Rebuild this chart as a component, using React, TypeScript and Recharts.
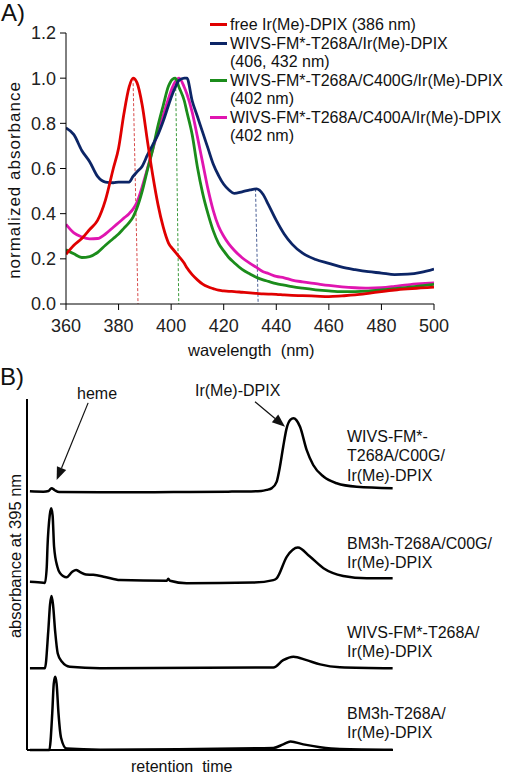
import { LineChart, Line, XAxis, YAxis, ReferenceLine } from "recharts";

// ---- panel A: normalized UV-vis spectra ----
const WAVELENGTHS = [
  360, 363, 366, 369, 372, 375, 378, 380, 382, 384, 385.5, 387, 389, 391, 393,
  395, 397, 399, 400.5, 401.6, 403, 405, 406, 408, 410, 412, 414, 416, 418, 420,
  422, 424, 427, 430, 432.5, 435, 437, 440, 443, 446, 450, 455, 460, 465, 470,
  475, 480, 485, 490, 495, 500,
];
const FREE_IR = [
  0.22, 0.26, 0.29, 0.33, 0.37, 0.46, 0.6, 0.69, 0.84, 0.96, 1.0, 0.98, 0.88,
  0.72, 0.57, 0.44, 0.34, 0.27, 0.245, 0.23, 0.21, 0.18, 0.16, 0.13, 0.107,
  0.088, 0.076, 0.068, 0.061, 0.058, 0.056, 0.055, 0.052, 0.049, 0.047, 0.045,
  0.044, 0.043, 0.04, 0.038, 0.037, 0.035, 0.033, 0.036, 0.04, 0.047, 0.055,
  0.062, 0.067, 0.071, 0.075,
];
const WIVS_T268A = [
  0.78, 0.75, 0.68, 0.63, 0.565, 0.54, 0.537, 0.54, 0.54, 0.54, 0.565, 0.585,
  0.61, 0.66, 0.705, 0.75, 0.81, 0.88, 0.93, 0.96, 0.99, 1.0, 1.0, 0.9, 0.83,
  0.76, 0.69, 0.62, 0.57, 0.53, 0.505, 0.49, 0.497, 0.505, 0.51, 0.485, 0.44,
  0.37, 0.31, 0.265, 0.225, 0.197, 0.18, 0.163, 0.152, 0.143, 0.137, 0.13,
  0.132, 0.14, 0.155,
];
const WIVS_C400G = [
  0.24, 0.222, 0.206, 0.21, 0.228, 0.26, 0.29, 0.31, 0.335, 0.36, 0.385, 0.425,
  0.5, 0.595, 0.685, 0.79, 0.88, 0.965, 0.995, 1.0, 0.96, 0.9, 0.85, 0.75,
  0.606, 0.49, 0.4, 0.325, 0.27, 0.235, 0.205, 0.183, 0.153, 0.133, 0.118,
  0.107, 0.1, 0.09, 0.084, 0.077, 0.07, 0.063, 0.058, 0.055, 0.055, 0.057,
  0.062, 0.068, 0.074, 0.08, 0.087,
];
const WIVS_C400A = [
  0.353, 0.315, 0.297, 0.288, 0.29, 0.31, 0.34, 0.36, 0.38, 0.4, 0.42, 0.45,
  0.52, 0.6, 0.685, 0.765, 0.835, 0.91, 0.96, 0.985, 1.0, 0.96, 0.93, 0.85,
  0.74, 0.625, 0.51, 0.415, 0.345, 0.3, 0.265, 0.238, 0.205, 0.18, 0.162,
  0.143, 0.135, 0.122, 0.116, 0.106, 0.098, 0.09, 0.082, 0.076, 0.072, 0.07,
  0.072, 0.078, 0.085, 0.09, 0.094,
];
const WL_TICKS = [360, 380, 400, 420, 440, 460, 480, 500];
const ABS_TICKS = [0, 0.2, 0.4, 0.6, 0.8, 1.0, 1.2];

const RED = "#e00000";
const NAVY = "#0c2566";
const GREEN = "#1b8c1b";
const MAGENTA = "#e015b0";

// peak drop lines (top -> bottom), in nm / normalized units
const PEAK_LINES = [
  { top: [385.5, 1.0], bottom: [387.4, 0], color: "#d84a4a" },
  { top: [401.7, 1.0], bottom: [402.9, 0], color: "#3a9a3a" },
  { top: [432.1, 0.51], bottom: [433.1, 0], color: "#4a5f96" },
];

const LEGEND = [
  { color: RED, lines: ["free Ir(Me)-DPIX (386 nm)"] },
  { color: NAVY, lines: ["WIVS-FM*-T268A/Ir(Me)-DPIX", "(406, 432 nm)"] },
  { color: GREEN, lines: ["WIVS-FM*-T268A/C400G/Ir(Me)-DPIX", "(402 nm)"] },
  { color: MAGENTA, lines: ["WIVS-FM*-T268A/C400A/Ir(Me)-DPIX", "(402 nm)"] },
];

// ---- panel B: HPLC traces (retention time a.u., stacked absorbance a.u.) ----
const TRACE_WIVS_C400G: [number, number][] = [
  [0.8, 73.7], [4.5, 73.6], [5.9, 73.8], [6.7, 74.6], [7.6, 74.0], [8.8, 73.5],
  [20, 73.4], [40, 73.5], [55, 73.6], [64, 73.8], [65.5, 74.1], [66.9, 74.6],
  [68.2, 76.4], [69.1, 80.7], [70.0, 86.4], [70.9, 91.5], [72.0, 94.1],
  [72.8, 94.5], [73.6, 94.0], [74.6, 92.1], [76.4, 85.5], [78.2, 81.2],
  [81.0, 77.9], [84.6, 76.0], [90.1, 75.0], [99.9, 74.6],
];
const TRACE_BM3H_C400G: [number, number][] = [
  [0.8, 47.9], [3, 47.8], [4.9, 47.6], [5.4, 52.2], [5.6, 57.9], [6.2, 66.8],
  [6.6, 68.9], [7.0, 66.8], [7.4, 57.9], [8.3, 52.2], [9.0, 50.4], [10.8, 49.2],
  [12.3, 50.7], [13.4, 51.3], [14.5, 50.7], [16.1, 50.0], [18.1, 49.9],
  [21.3, 49.3], [25.4, 48.4], [38.2, 48.2], [38.6, 48.8], [39.1, 48.2],
  [43.6, 47.5], [61.7, 47.7], [67.3, 48.4], [68.2, 48.9], [71.0, 55.1],
  [74.0, 57.7], [77.3, 55.1], [81.0, 51.8], [86.4, 49.6], [92.8, 48.9],
  [99.9, 48.9],
];
const TRACE_WIVS_T268A: [number, number][] = [
  [0.8, 23.3], [4.9, 23.3], [5.8, 33.7], [6.3, 41.5], [6.7, 43.9], [7.1, 41.5],
  [7.7, 33.7], [8.4, 27.5], [9.5, 25.2], [11.7, 23.7], [20, 23.3], [67.3, 23.5],
  [70.0, 25.6], [72.8, 26.6], [76.4, 25.6], [80.1, 24.4], [85.5, 23.6],
  [99.9, 23.3],
];
const TRACE_BM3H_T268A: [number, number][] = [
  [0.8, 0], [6.1, 0], [6.9, 10.5], [7.3, 18.8], [7.7, 20.9], [8.1, 18.8],
  [8.6, 10.5], [9.3, 3.5], [10.8, 0.4], [20, 0.1], [67.3, 0.6], [70.0, 1.6],
  [72.0, 2.4], [75.5, 1.6], [80.1, 0.8], [85.5, 0.3], [99.9, 0.1],
];

const TRACES = [
  { data: TRACE_WIVS_C400G, label: ["WIVS-FM*-", "T268A/C00G/", "Ir(Me)-DPIX"], labelY: 436 },
  { data: TRACE_BM3H_C400G, label: ["BM3h-T268A/C00G/", "Ir(Me)-DPIX"], labelY: 543 },
  { data: TRACE_WIVS_T268A, label: ["WIVS-FM*-T268A/", "Ir(Me)-DPIX"], labelY: 632 },
  { data: TRACE_BM3H_T268A, label: ["BM3h-T268A/", "Ir(Me)-DPIX"], labelY: 713 },
];

// annotation arrows [from, to] in trace units
const ARROWS = [
  { from: [16.7, 98.9], to: [8.1, 76.9] },
  { from: [62.3, 99.2], to: [70.5, 92.1] },
];

const FONT = "'Liberation Sans', Arial, sans-serif";

const spectra = WAVELENGTHS.map((wl, i) => ({
  wl,
  free: FREE_IR[i],
  wt: WIVS_T268A[i],
  c400g: WIVS_C400G[i],
  c400a: WIVS_C400A[i],
}));

function Txt({ x, y, size = 16, children, lh = 19 }: any) {
  return (
    <div
      style={{
        position: "absolute",
        left: x,
        top: y - lh / 2,
        fontSize: size,
        lineHeight: `${lh}px`,
        whiteSpace: "nowrap",
        color: "#111",
        fontFamily: FONT,
      }}
    >
      {children}
    </div>
  );
}

function VTitle({ cx, cy, size, spacing = 0, children }: any) {
  return (
    <div
      style={{
        position: "absolute",
        left: cx,
        top: cy,
        transform: "translate(-50%, -50%) rotate(-90deg)",
        fontSize: size,
        letterSpacing: spacing,
        whiteSpace: "nowrap",
        color: "#111",
        fontFamily: FONT,
        lineHeight: 1,
      }}
    >
      {children}
    </div>
  );
}

function Arrow(p: any) {
  const { x1, y1, x2, y2 } = p;
  const a = Math.atan2(y2 - y1, x2 - x1);
  const len = 13;
  const half = 5;
  const bx = x2 - len * Math.cos(a);
  const by = y2 - len * Math.sin(a);
  const pts = [
    [x2, y2],
    [bx + half * Math.sin(a), by - half * Math.cos(a)],
    [bx - half * Math.sin(a), by + half * Math.cos(a)],
  ]
    .map((q) => q.join(","))
    .join(" ");
  return (
    <g>
      <line x1={x1} y1={y1} x2={bx} y2={by} stroke="#111" strokeWidth={1.2} />
      <polygon points={pts} fill="#111" />
    </g>
  );
}

const tickStyle = { fontSize: 18, fill: "#222", fontFamily: FONT };

export default function App() {
  return (
    <div
      style={{
        position: "absolute",
        left: 0,
        top: 0,
        width: 514,
        height: 774,
        background: "#fff",
        overflow: "hidden",
      }}
    >
      {/* panel A */}
      <div style={{ position: "absolute", left: 0, top: 0 }}>
        <LineChart
          width={514}
          height={360}
          data={spectra}
          margin={{ top: 33, right: 80, bottom: 16, left: 6 }}
        >
          <XAxis
            dataKey="wl"
            type="number"
            domain={[360, 500]}
            ticks={WL_TICKS}
            allowDataOverflow
            height={40}
            stroke="#000"
            tickSize={6}
            tickMargin={9}
            tick={tickStyle}
          />
          <YAxis
            type="number"
            domain={[0, 1.2]}
            ticks={ABS_TICKS}
            allowDataOverflow
            width={60}
            stroke="#000"
            tickSize={6}
            tickMargin={4}
            tick={tickStyle}
            tickFormatter={(v: number) => v.toFixed(1)}
          />
          {PEAK_LINES.map((p, i) => (
            <ReferenceLine
              key={i}
              segment={[
                { x: p.top[0], y: p.top[1] },
                { x: p.bottom[0], y: p.bottom[1] },
              ]}
              stroke={p.color}
              strokeWidth={1}
              strokeDasharray="3 2"
            />
          ))}
          <Line dataKey="c400a" type="monotone" stroke={MAGENTA} strokeWidth={2.8} dot={false} isAnimationActive={false} />
          <Line dataKey="c400g" type="monotone" stroke={GREEN} strokeWidth={2.8} dot={false} isAnimationActive={false} />
          <Line dataKey="wt" type="monotone" stroke={NAVY} strokeWidth={2.8} dot={false} isAnimationActive={false} />
          <Line dataKey="free" type="monotone" stroke={RED} strokeWidth={2.8} dot={false} isAnimationActive={false} />
        </LineChart>
      </div>

      <Txt x={1} y={13} size={24} lh={28}>A)</Txt>
      <VTitle cx={14} cy={180} size={17} spacing={1}>normalized absorbance</VTitle>
      <Txt x={188} y={350} size={16.5}>wavelength&nbsp;&nbsp;(nm)</Txt>

      {LEGEND.map((entry, i) => {
        const rowTop = 24.5 + i * 37 - (i > 0 ? 18.5 : 0);
        return (
          <div key={i}>
            <div
              style={{
                position: "absolute",
                left: 210,
                top: rowTop - 1.5,
                width: 17,
                height: 3,
                background: entry.color,
              }}
            />
            {entry.lines.map((ln, j) => (
              <Txt key={j} x={230} y={rowTop + j * 18.5}>
                {ln}
              </Txt>
            ))}
          </div>
        );
      })}

      {/* panel B */}
      <div style={{ position: "absolute", left: 0, top: 360 }}>
        <LineChart
          width={514}
          height={414}
          margin={{ top: 39, right: 121, bottom: 14, left: 17 }}
        >
          <XAxis
            dataKey="t"
            type="number"
            domain={[0, 100]}
            height={10}
            tick={false}
            tickLine={false}
            axisLine={{ stroke: "#000", strokeWidth: 2 }}
          />
          <YAxis
            type="number"
            domain={[0, 100]}
            width={10}
            tick={false}
            tickLine={false}
            axisLine={{ stroke: "#000", strokeWidth: 2 }}
          />
          {TRACES.map((tr, i) => (
            <Line
              key={i}
              data={tr.data.map(([t, a]) => ({ t, a }))}
              dataKey="a"
              type="monotone"
              stroke="#000"
              strokeWidth={2.5}
              dot={false}
              isAnimationActive={false}
            />
          ))}
          {ARROWS.map((ar, i) => (
            <ReferenceLine
              key={i}
              segment={[
                { x: ar.from[0], y: ar.from[1] },
                { x: ar.to[0], y: ar.to[1] },
              ]}
              shape={Arrow}
            />
          ))}
        </LineChart>
      </div>

      <Txt x={0} y={377} size={24} lh={28}>B)</Txt>
      <Txt x={77} y={393}>heme</Txt>
      <Txt x={195} y={390}>Ir(Me)-DPIX</Txt>
      <VTitle cx={15} cy={556} size={16.5}>absorbance at 395 nm</VTitle>
      <Txt x={131} y={767} lh={14}>retention&nbsp;&nbsp;time</Txt>
      {TRACES.map((tr, i) =>
        tr.label.map((ln, j) => (
          <Txt key={`${i}-${j}`} x={347} y={tr.labelY + j * 19.5}>
            {ln}
          </Txt>
        ))
      )}
    </div>
  );
}
